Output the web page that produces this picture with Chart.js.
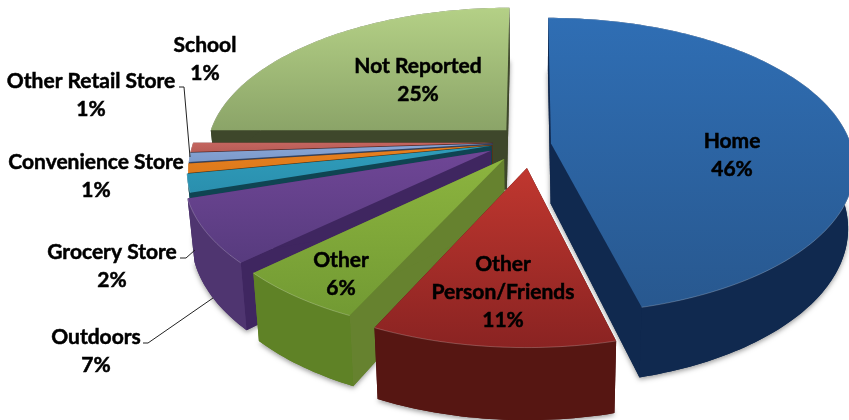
<!DOCTYPE html>
<html lang="en">
<head>
<meta charset="utf-8">
<title>Where the items came from</title>
<script src="https://cdn.jsdelivr.net/npm/chart.js"></script>
<style>
  html, body { margin: 0; padding: 0; background: #fff; overflow: hidden; }
  canvas { display: block; }
</style>
</head>
<body>
<canvas id="pie3d" width="849" height="420"></canvas>
<script>
// slices, clockwise from twelve o'clock
const categories = ['Home', 'Other Person/Friends', 'Other', 'Outdoors', 'Grocery Store',
                    'Convenience Store', 'Other Retail Store', 'School', 'Not Reported'];
const shares = [46, 11, 6, 7, 2, 1, 1, 1, 25];

// how far each slice is pulled out, as fractions of the radius
const pullX = [0.07, -0.01, -0.085, -0.13, -0.128, -0.125, -0.125, -0.125, -0.08];
const pullY = [-0.01, 0.155, 0.095, 0.04, 0.005, 0, -0.01, -0.015, -0.103];

// top gradient (far, near), rim wall, cut wall
const sliceColors = [
  ['#2f6eb4', '#28588f', '#10294f', '#10294f'],
  ['#c0372f', '#8a2322', '#561612', '#4a1210'],
  ['#8cb43f', '#729a33', '#5f8226', '#66822f'],
  ['#6f4696', '#573b7e', '#4f3570', '#3f2660'],
  ['#2f9dbb', '#2a8fae', '#124a58', '#0f4452'],
  ['#e8801f', '#dd7a1c', '#6e3d10', '#5c330e'],
  ['#8aa6d6', '#7b9acb', '#3b4a68', '#34425e'],
  ['#c4655f', '#b85c56', '#5e2c29', '#522624'],
  ['#b4d086', '#8ba468', '#3e472b', '#3e472b']
];

// text placement: centre x, first line y, lines of the name
const labelSpots = [
  [732, 141, ['Home']],
  [503, 264, ['Other', 'Person/Friends']],
  [341, 260, ['Other']],
  [96, 337, ['Outdoors']],
  [112, 252, ['Grocery Store']],
  [96, 162, ['Convenience Store']],
  [91, 81, ['Other Retail Store']],
  [205, 45, ['School']],
  [418, 66, ['Not Reported']]
];
const lineGap = 28;

// leader lines from label to slice
const leaders = [
  [[179, 87], [184, 87], [190, 157]],
  [[180, 258], [186, 258], [195, 250]],
  [[143, 343], [148, 343], [213, 298]]
];

// tilted view of the pie plane
const stretchX = 2.07;   // horizontal spread against radius
const perspective = 0.15;
const depth = 60;
const bottomShrink = 0.98;

function project(arc, u, v, lower) {
  const s = 1 / (1 - perspective * v);
  const r = arc.outerRadius;
  return {
    x: arc.x + r * stretchX * u * s * (lower ? bottomShrink : 1),
    y: arc.y + (r * v + (lower ? depth : 0)) * s
  };
}

function tracePath(ctx, pts) {
  ctx.beginPath();
  pts.forEach((p, i) => i ? ctx.lineTo(p.x, p.y) : ctx.moveTo(p.x, p.y));
  ctx.closePath();
}

function drawSlice(ctx, arc, idx) {
  const colors = sliceColors[idx];
  const ox = pullX[idx];
  const oy = pullY[idx];

  const rimTop = [], rimLow = [];
  const steps = Math.max(2, Math.ceil((arc.endAngle - arc.startAngle) / 0.02));
  for (let i = 0; i <= steps; i++) {
    const a = arc.startAngle + (arc.endAngle - arc.startAngle) * i / steps;
    const u = Math.cos(a) + ox, v = Math.sin(a) + oy;
    rimTop.push(project(arc, u, v, false));
    rimLow.push(project(arc, u, v, true));
  }
  const apexTop = project(arc, ox, oy, false);
  const apexLow = project(arc, ox, oy, true);

  // underside, only there to throw the soft shadow
  ctx.save();
  ctx.shadowColor = 'rgba(0,0,0,0.4)';
  ctx.shadowBlur = 5;
  ctx.shadowOffsetY = 2;
  ctx.fillStyle = colors[2];
  tracePath(ctx, [apexLow].concat(rimLow));
  ctx.fill();
  ctx.restore();

  // cut faces
  ctx.fillStyle = colors[3];
  tracePath(ctx, [apexTop, rimTop[0], rimLow[0], apexLow]);
  ctx.fill();
  tracePath(ctx, [apexTop, rimTop[steps], rimLow[steps], apexLow]);
  ctx.fill();

  // outer wall
  ctx.fillStyle = colors[2];
  tracePath(ctx, rimTop.concat(rimLow.slice().reverse()));
  ctx.fill();

  // top face
  const ys = rimTop.map(p => p.y).concat(apexTop.y);
  const grad = ctx.createLinearGradient(0, Math.min(...ys), 0, Math.max(...ys));
  grad.addColorStop(0, colors[0]);
  grad.addColorStop(1, colors[1]);
  ctx.fillStyle = grad;
  tracePath(ctx, [apexTop].concat(rimTop));
  ctx.fill();

  // light bevel along the rim
  ctx.strokeStyle = 'rgba(255,255,255,0.22)';
  ctx.lineWidth = 1;
  ctx.beginPath();
  rimTop.forEach((p, i) => i ? ctx.lineTo(p.x, p.y) : ctx.moveTo(p.x, p.y));
  ctx.stroke();
}

function drawLabels(ctx) {
  ctx.strokeStyle = '#222';
  ctx.lineWidth = 1;
  leaders.forEach(line => {
    ctx.beginPath();
    line.forEach((p, i) => i ? ctx.lineTo(p[0], p[1]) : ctx.moveTo(p[0], p[1]));
    ctx.stroke();
  });

  ctx.fillStyle = '#000';
  ctx.strokeStyle = '#000';
  ctx.lineWidth = 0.5;
  ctx.font = 'bold 21px Lato, sans-serif';
  ctx.textAlign = 'center';
  ctx.textBaseline = 'middle';
  labelSpots.forEach((spot, i) => {
    const lines = spot[2].concat(shares[i] + '%');
    lines.forEach((text, n) => {
      ctx.fillText(text, spot[0], spot[1] + n * lineGap);
      ctx.strokeText(text, spot[0], spot[1] + n * lineGap);
    });
  });
}

const pie3d = {
  id: 'pie3d',
  beforeDatasetsDraw(chart) {
    const ctx = chart.ctx;
    const arcs = chart.getDatasetMeta(0).data;
    // far slices first so nearer ones cover them
    const order = arcs.map((a, i) => i).sort((p, q) => {
      const mid = i => (arcs[i].startAngle + arcs[i].endAngle) / 2;
      return Math.sin(mid(p)) - Math.sin(mid(q));
    });
    order.forEach(i => drawSlice(ctx, arcs[i], i));
    drawLabels(ctx);
    return false;
  }
};

new Chart(document.getElementById('pie3d'), {
  type: 'pie',
  data: {
    labels: categories,
    datasets: [{ data: shares, borderWidth: 0 }]
  },
  options: {
    responsive: false,
    animation: false,
    layout: { padding: { left: 385, right: 174, top: 0, bottom: 130 } },
    plugins: { legend: { display: false }, tooltip: { enabled: false } }
  },
  plugins: [pie3d]
});
</script>
</body>
</html>
